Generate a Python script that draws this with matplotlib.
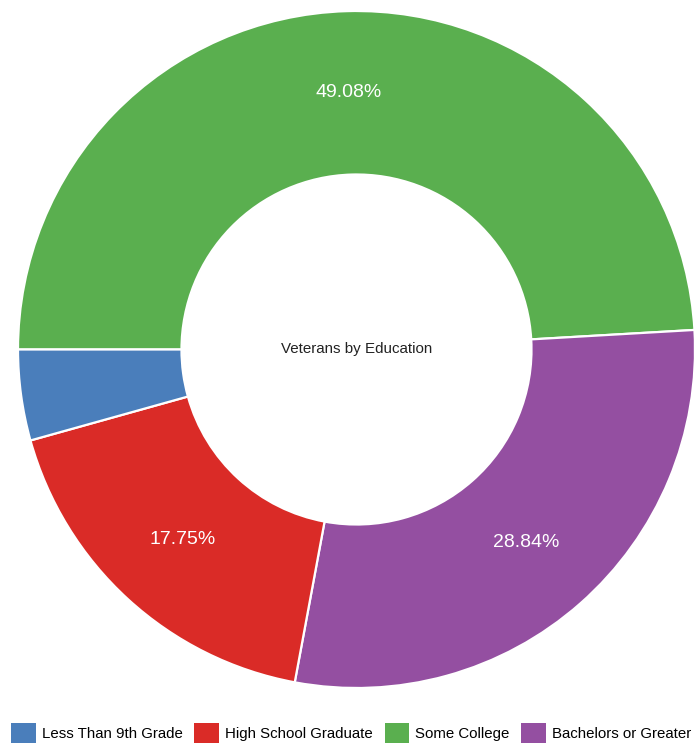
import matplotlib
matplotlib.use("Agg")
import matplotlib.pyplot as plt
from matplotlib.patches import Patch

plt.rcParams['font.family'] = ['Liberation Sans', 'DejaVu Sans']

# data, in the order the ring is drawn (clockwise from 9 o'clock)
categories = ["Some College", "Bachelors or Greater", "High School Graduate", "Less Than 9th Grade"]
shares = [49.08, 28.84, 17.75, 4.33]
colors = ["#5aaf4f", "#944fa1", "#da2b27", "#4a7ebb"]

# legend order
legend_order = ["Less Than 9th Grade", "High School Graduate", "Some College", "Bachelors or Greater"]
title = "Veterans by Education"

W, H = 694, 744
fig = plt.figure(figsize=(W / 100, H / 100), dpi=100)

# ring centre (356.5, 349.5) px, outer radius 338.5 px
cx, cy, r = 356.5, 349.5, 338.5
ax = fig.add_axes([(cx - r) / W, (H - cy - r) / H, 2 * r / W, 2 * r / H])


def fmt(p):
    return f"{p:.2f}%" if p >= 5 else ""


wedges, texts, autotexts = ax.pie(
    shares, colors=colors, startangle=180, counterclock=False, radius=1,
    autopct=fmt, pctdistance=0.76,
    wedgeprops=dict(width=0.483, edgecolor="white", linewidth=1.6),
    textprops=dict(color="white", fontsize=14),
)
ax.set_xlim(-1, 1)
ax.set_ylim(-1, 1)
ax.axis("off")
for w in wedges:
    w.set_clip_on(False)

ax.text(0, 0, title, ha="center", va="center", fontsize=10.9, color="#222222")

color_of = dict(zip(categories, colors))
handles = [Patch(facecolor=color_of[c], edgecolor="none", label=c) for c in legend_order]
fig.legend(handles=handles, loc="center left", bbox_to_anchor=(11 / W, 1 - 733 / H),
           ncol=4, frameon=False, fontsize=10.8, borderpad=0, borderaxespad=0,
           handlelength=1.65, handleheight=1.6, handletextpad=0.4, columnspacing=0.78)

fig.savefig("out.png", dpi=100, facecolor="white")
